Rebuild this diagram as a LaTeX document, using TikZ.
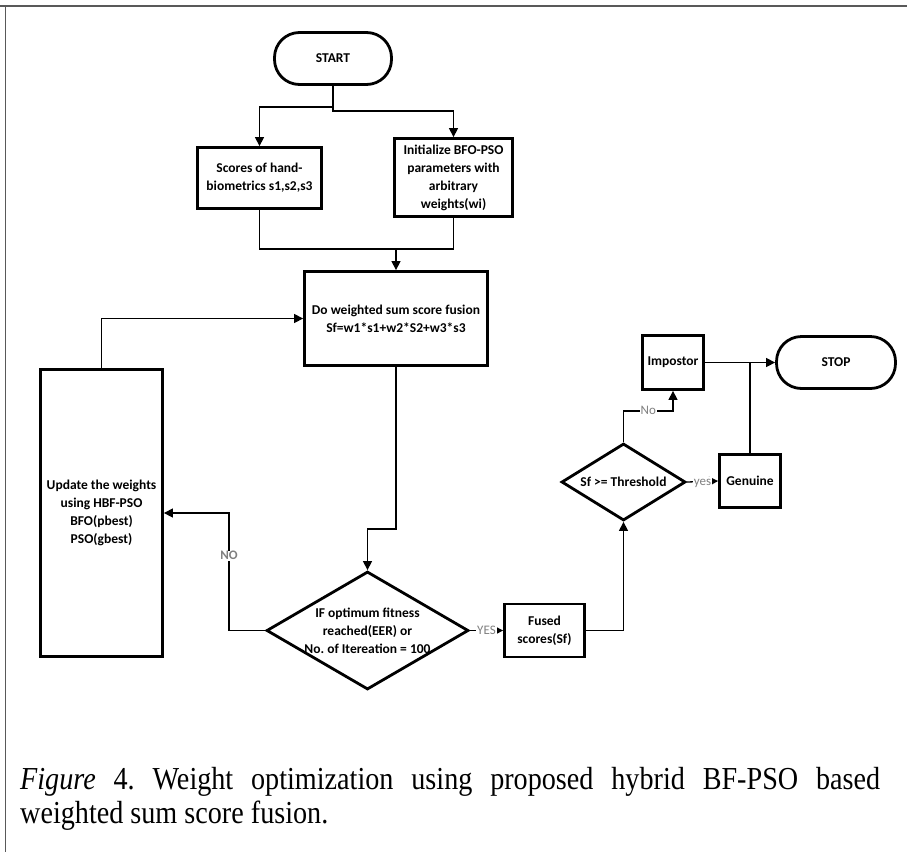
\documentclass[tikz,border=0pt]{standalone}
\usepackage{fontspec}
\newfontfamily\flowfont{Carlito}
\newfontfamily\capfont[FakeStretch=0.88]{Liberation Serif}
\usetikzlibrary{arrows.meta,shapes.geometric,calc}
\frenchspacing
\begin{document}
\begin{tikzpicture}[x=1pt,y=-1pt,
  txt/.style={font=\flowfont\bfseries\fontsize{13.5}{18}\selectfont},
  box/.style={draw, line width=2.8pt, rectangle, align=center, inner sep=2pt, txt},
  term/.style={box, rounded corners=25pt},
  dia/.style={draw, line width=2.8pt, diamond, inner sep=0pt},
  dlab/.style={txt, align=center},
  arr/.style={line width=1.3pt, -{Triangle[length=9pt,width=9pt]}},
  ln/.style={line width=1.3pt},
  lab/.style={fill=white, text=gray, inner sep=1pt, text height=7.5pt, text depth=0.5pt, font=\flowfont\fontsize{13}{15}\selectfont},
  capt/.style={anchor=north west, inner sep=0pt, text width=860pt, align=justify, font=\capfont\fontsize{32}{34}\selectfont},
]
\useasboundingbox (0,0) rectangle (907,852);
\draw[line width=2pt, gray!70!black] (0,6) -- (907,6);
\draw[line width=1pt, gray!70!black] (5,6) -- (5,852);

\node[term, minimum width=117pt, minimum height=52pt] (start) at (333,58.5) {START};
\node[box, minimum width=124pt, minimum height=61pt] (scores) at (259.5,178) {Scores of hand-\\biometrics s1,s2,s3};
\node[box, minimum width=118pt, minimum height=78pt] (init) at (453.5,177.5) {Initialize BFO-PSO\\parameters with\\arbitrary\\weights(wi)};
\node[box, minimum width=183pt, minimum height=94pt] (fusion) at (396,318.5) {Do weighted sum score fusion\\Sf=w1*s1+w2*S2+w3*s3};
\node[box, minimum width=122pt, minimum height=287pt] (update) at (101.5,513) {Update the weights\\using HBF-PSO\\BFO(pbest)\\PSO(gbest)};
\node[dia, minimum width=202pt, minimum height=118pt,
  label={[dlab]center:{IF optimum fitness\\reached(EER) or\\No. of Itereation = 100}}] (cond) at (367.5,630.5) {};
\node[box, minimum width=80pt, minimum height=53pt] (fused) at (544.5,630.5) {Fused\\scores(Sf)};
\node[dia, minimum width=124pt, minimum height=77pt,
  label={[dlab]center:{Sf >= Threshold}}] (thresh) at (623.5,482) {};
\node[box, minimum width=61pt, minimum height=53pt] (genuine) at (750,481) {Genuine};
\node[box, minimum width=61pt, minimum height=54pt] (impostor) at (673,362.5) {Impostor};
\node[term, minimum width=119pt, minimum height=52pt] (stop) at (836,362.5) {STOP};

\draw[arr] (start.south) -- (start.south |- 0,107) -| (scores.north);
\draw[arr] (start.south) -- (start.south |- 0,111) -| (init.north);
\coordinate (j) at (396,249);
\draw[ln] (scores.south) |- (j);
\draw[ln] (init.south) |- (j);
\draw[arr] (j) -- (fusion.north);
\draw[arr] (update.north) |- (fusion.west);
\draw[arr] (fusion.south) -- (fusion.south |- 0,529) -| (cond.north);
\draw[arr] (cond.west) -- (cond.west -| 229,0) -- node[lab, pos=0.63, font=\flowfont\bfseries\fontsize{13}{15}\selectfont]{NO} (229,513) -- (update.east);
\draw[arr] (cond.east) -- node[lab]{YES} (fused.west);
\draw[arr] (fused.east) -| (thresh.south);
\draw[arr] (thresh.north) -- (thresh.north |- 0,411) -- node[lab]{No} (impostor.south |- 0,411) -- (impostor.south);
\draw[arr] (thresh.east) -- node[lab]{yes} (genuine.west);
\draw[arr] (impostor.east) -- (stop.west);
\draw[ln] (genuine.north) -- (genuine.north |- impostor.east);

\node[capt] (cap) at (20,767)
  {\frenchspacing\tolerance=10000 \hbadness=10000 \textit{Figure} 4. Weight optimization using proposed hybrid BF-PSO based weighted sum score fusion.};
\end{tikzpicture}
\end{document}
